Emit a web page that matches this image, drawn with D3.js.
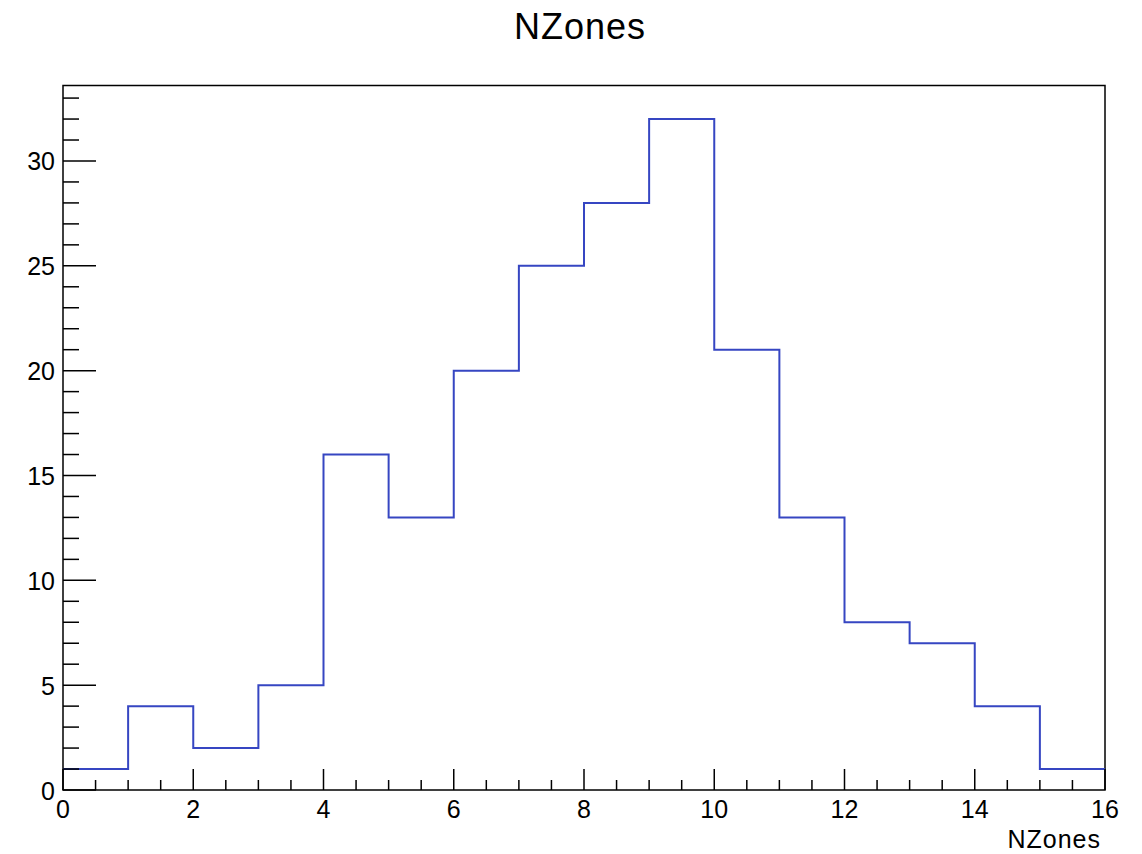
<!DOCTYPE html>
<html><head><meta charset="utf-8">
<script src="https://cdn.jsdelivr.net/npm/d3@7"></script>
<style>body{margin:0;background:#fff}svg{display:block}text{font-family:"Liberation Sans",Arial,Helvetica,sans-serif;fill:#000}</style>
</head><body><svg id="c" width="1142" height="854"></svg>
<script>
const binEdges = [0,1,2,3,4,5,6,7,8,9,10,11,12,13,14,15,16];
const counts = [1,4,2,5,16,13,20,25,28,32,21,13,8,7,4,1];
const xTickLabels = [0,2,4,6,8,10,12,14,16];
const yTickLabels = [0,5,10,15,20,25,30];
const title = "NZones";
const xTitle = "NZones";

const svg = d3.select("#c");
const L=63, R=1105, T=85.5, B=790;
const x = d3.scaleLinear().domain([0,16]).range([L,R]);
const yMax = d3.max(counts)*1.05;
const y = d3.scaleLinear().domain([0,yMax]).range([B,T]);

svg.append("rect").attr("width",1142).attr("height",854).attr("fill","#fff");
svg.append("rect").attr("x",L).attr("y",T).attr("width",R-L).attr("height",B-T)
  .attr("fill","none").attr("stroke","#000").attr("stroke-width",1.5);

let pts=[];
counts.forEach((c,i)=>{pts.push([x(binEdges[i]),y(c)]);pts.push([x(binEdges[i+1]),y(c)]);});
svg.append("path").attr("d",d3.line()(pts)).attr("fill","none")
  .attr("stroke","#3646c2").attr("stroke-width",2);

const gy = svg.append("g");
d3.range(0,34,1).forEach(v=>{
  if(y(v)<T) return;
  const major = v%5===0;
  gy.append("line").attr("x1",L).attr("x2",L+(major?33:16)).attr("y1",y(v)).attr("y2",y(v))
    .attr("stroke","#000").attr("stroke-width",1.5);
});
yTickLabels.forEach(v=>{
  gy.append("text").attr("x",55).attr("y",y(v)+9.5).attr("text-anchor","end")
    .attr("font-size",25).text(v);
});
const gx = svg.append("g");
d3.range(0,16.01,0.5).forEach(v=>{
  const major = v%2===0;
  gx.append("line").attr("x1",x(v)).attr("x2",x(v)).attr("y1",B).attr("y2",B-(major?21:10))
    .attr("stroke","#000").attr("stroke-width",1.5);
});
xTickLabels.forEach(v=>{
  gx.append("text").attr("x",x(v)).attr("y",818).attr("text-anchor","middle")
    .attr("font-size",25).text(v);
});
svg.append("text").attr("x",R-4).attr("y",848).attr("text-anchor","end").attr("font-size",25)
  .attr("letter-spacing",1).text(xTitle);
svg.append("text").attr("x",580).attr("y",39).attr("text-anchor","middle").attr("font-size",36)
  .attr("letter-spacing",1).text(title);
</script></body></html>
